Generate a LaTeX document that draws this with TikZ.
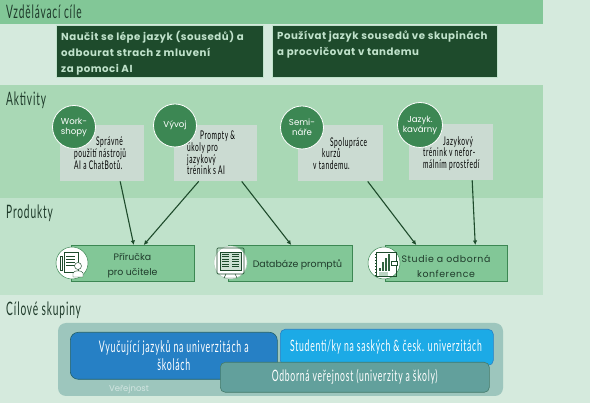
\documentclass[tikz,border=0pt]{standalone}
\usepackage{xcolor}
\usepackage{fontspec}
\setmainfont{Poppins}
\newfontfamily\narrowfont[FakeStretch=0.55,LetterSpace=4.5]{Lato}
\newfontfamily\spacedfont[LetterSpace=6]{Poppins}
\newfontfamily\goalfont[LetterSpace=5]{Poppins}
\usetikzlibrary{arrows.meta, positioning}
\definecolor{pagebg}{HTML}{D5EADD}
\definecolor{bandtop}{HTML}{82C797}
\definecolor{bandact}{HTML}{A9D8B5}
\definecolor{bandprod}{HTML}{C0E2CB}
\definecolor{darkgreen}{HTML}{1E4B2C}
\definecolor{palegrey}{HTML}{CBDBD2}
\definecolor{midgreen}{HTML}{3C8753}
\definecolor{inktext}{HTML}{1F3B2B}
\definecolor{panelbg}{HTML}{9DC6BD}
\definecolor{bluebox}{HTML}{2680C5}
\definecolor{skybox}{HTML}{1CAAE6}
\definecolor{tealbox}{HTML}{62A09C}

\begin{document}
\begin{tikzpicture}[x=1pt, y=-1pt]
    \tikzstyle{band} = [rectangle, draw=none, anchor=north west, minimum width=543pt, inner sep=0pt, outer sep=0pt]
    \tikzstyle{bandtitle} = [anchor=west, inner sep=0pt, text=inktext, font=\narrowfont\fontsize{18.5}{18.5}\selectfont]
    \tikzstyle{goal} = [rectangle, fill=darkgreen, draw=bandprod, line width=0.4pt, anchor=north west, minimum height=52pt, inner sep=0pt]
    \tikzstyle{goaltext} = [anchor=north west, inner sep=0pt, align=left, text=bandprod, font=\goalfont\bfseries\fontsize{10.2}{16}\selectfont]
    \tikzstyle{activity} = [rectangle, fill=palegrey, anchor=north west, minimum width=84pt, minimum height=56pt, inner sep=0pt]
    \tikzstyle{acttext} = [anchor=north west, inner sep=0pt, align=left, text=black, font=\narrowfont\fontsize{12}{11.7}\selectfont]
    \tikzstyle{badge} = [circle, fill=midgreen, draw=white, line width=0.8pt, minimum size=43pt, inner sep=0pt, align=center, text=white, font=\fontsize{8.6}{10}\selectfont]
    \tikzstyle{product} = [rectangle, fill=bandtop, draw=midgreen, line width=0.5pt, anchor=north west, minimum height=36pt, inner sep=0pt]
    \tikzstyle{prodtext} = [align=center, inner sep=0pt, text=inktext, font=\fontsize{9.4}{15}\selectfont]
    \tikzstyle{iconbg} = [circle, fill=white, draw=midgreen, line width=0.5pt, minimum size=32pt, inner sep=0pt]
    \tikzstyle{audience} = [rectangle, rounded corners=5pt, line width=0.6pt, anchor=north west, inner sep=0pt, align=center, text=white, font=\narrowfont\fontsize{15.7}{18}\selectfont]
    \tikzstyle{flow} = [draw=darkgreen, line width=1.1pt, -{Latex[length=4.5pt,width=4.5pt]}]
    \tikzstyle{icon} = [draw=darkgreen, line width=0.45pt]

    % background
    \fill[pagebg] (0,0) rectangle (590,403);
    \useasboundingbox (0,0) rectangle (590,403);
    \node (bandgoals) [band, fill=bandtop, minimum height=24pt] at (0,0) {};
    \node (bandacts) [band, fill=bandact, minimum height=113pt] at (0,85) {};
    \node (bandprods) [band, fill=bandprod, minimum height=97pt] at (0,198) {};

    \node (tgoals) [bandtitle] at (6,12) {Vzdělávací cíle};
    \node (tacts) [bandtitle] at (6,100) {Aktivity};
    \node (tprods) [bandtitle] at (6,213) {Produkty};
    \node (taud) [bandtitle] at (6,310) {Cílové skupiny};

    % goals
    \node (goal1) [goal, minimum width=207pt] at (56,25) {};
    \node (goaltext1) [goaltext] at (61,30.5) {Naučit se lépe jazyk (sousedů) a\\odbourat strach z mluvení\\za pomoci AI};
    \node (goal2) [goal, minimum width=225pt] at (272,25) {};
    \node (goaltext2) [goaltext] at (277,30.5) {Používat jazyk sousedů ve skupinách\\a procvičovat v tandemu};

    % activities
    \node (act1) [activity] at (60,125) {};
    \node (act2) [activity, minimum width=83pt] at (174,125) {};
    \node (act3) [activity, minimum width=85pt] at (298,125) {};
    \node (act4) [activity] at (409,124) {};

    \node (acttext1) [acttext] at (74,137) {\hspace*{22pt}Správné\\použití nástrojů\\AI a ChatBotů.};
    \node (acttext2) [acttext] at (187,131) {\hspace*{13pt}Prompty \&\\úkoly pro\\jazykový\\trénink s AI};
    \node (acttext3) [acttext] at (313,137) {\hspace*{17pt}Spolupráce\\\hspace*{9pt}kurzů\\v tandemu.};
    \node (acttext4) [acttext] at (423,136) {\hspace*{20pt}Jazykový\\trénink v nefor-\\málním prostředí};

    \node (badge1) [badge] at (74,127) {Work-\\shopy};
    \node (badge2) [badge] at (175,125.5) {Vývoj};
    \node (badge3) [badge] at (302,127.5) {Semi-\\náře};
    \node (badge4) [badge, minimum size=45pt] at (420,125) {Jazyk.\\kavárny};

    % products
    \node (prod1) [product, minimum width=123pt] at (71,245) {};
    \node (prod2) [product, minimum width=124pt] at (228,245) {};
    \node (prod3) [product, minimum width=122pt] at (385,245) {};
    \node (prodtext1) [prodtext] at (132.5,266) {Příručka\\pro učitele};
    \node (prodtext2) [prodtext] at (297.5,265) {Databáze promptů};
    \node (prodtext3) [prodtext, font=\spacedfont\fontsize{9.4}{15}\selectfont] at (446,266) {Studie a odborná\\konference};

    % icons
    \node (icon1) [iconbg] at (72,263) {};
    \draw[icon] (64,252) rectangle (78,272);
    \foreach \y in {256,259,262,265} \draw[icon] (66,\y) -- (75,\y);
    \draw[icon, fill=white] (62,256) rectangle (60,270);
    \draw[icon, fill=white] (78,266) circle (3.5pt);
    \draw[icon, fill=white] (73,277) -- (73,273) .. controls (74,270) and (82,270) .. (83,273) -- (83,277) -- cycle;
    \node (icon2) [iconbg, draw=midgreen!40, minimum size=33pt] at (230.5,262.5) {};
    \draw[icon, line width=0.7pt, rounded corners=1pt] (217,248) rectangle (244,274);
    \draw[icon, fill=midgreen!25] (220,252) rectangle (241,270);
    \foreach \y in {254,256.5,...,268} {
        \draw[icon, line width=0.8pt] (222,\y) -- (229,\y);
        \draw[icon, line width=0.8pt] (232,\y) -- (239,\y);
    }
    \draw[icon] (226,274) -- (224,278) -- (237,278) -- (235,274);
    \node (icon3) [iconbg] at (384,263) {};
    \draw[icon] (376,252) -- (376,276) -- (396,276) -- (396,252) -- cycle;
    \foreach \y in {254,257,...,275} \draw[icon] (375,\y) -- (377,\y);
    \foreach \x/\y in {380/268,383/262,386/258,389/254} \fill[darkgreen!80!bandtop] (\x-1,\y) rectangle (\x+1,271);
    \fill[midgreen!35] (379,272) rectangle (388,276);
    \draw[icon, fill=white] (391,261) rectangle (397,265);

    % audience
    \fill[panelbg, rounded corners=8pt] (58,323) rectangle (503,396);
    \node (tpublic) [text=white, opacity=0.55, inner sep=0pt, font=\fontsize{8.5}{9}\selectfont] at (129,389) {Veřejnost};
    \node (teachers) [audience, fill=bluebox, draw=darkgreen!60!bluebox, minimum width=207pt, minimum height=47pt, rounded corners=8pt, font=\narrowfont\fontsize{16}{18}\selectfont] at (70,332) {Vyučující jazyků na univerzitách a\\školách};
    \node (students) [audience, fill=skybox, draw=bluebox, minimum width=213pt, minimum height=36pt] at (280,329) {};
    \node (tstudents) [text=white, inner sep=0pt, font=\narrowfont\fontsize{15.7}{18}\selectfont] at (386,347) {Studenti/ky na saských \& česk. univerzitách};
    \node (public) [audience, fill=tealbox, draw=darkgreen!45!tealbox, minimum width=269pt, minimum height=30pt] at (220,362) {Odborná veřejnost (univerzity a školy)};

    % connectors
    \draw[flow] ([xshift=18pt]act1.south) -- ([xshift=1pt]prod1.north);
    \draw[flow] ([xshift=-17pt]act2.south) -- ([xshift=11pt]prod1.north);
    \draw[flow] ([xshift=26pt]act2.south) -- ([xshift=1pt]prod2.north);
    \draw[flow] ([xshift=27pt]act3.south) -- ([xshift=-30pt]prod3.north);
    \draw[flow] ([xshift=21pt]act4.south) -- ([xshift=29pt]prod3.north);
\end{tikzpicture}
\end{document}
